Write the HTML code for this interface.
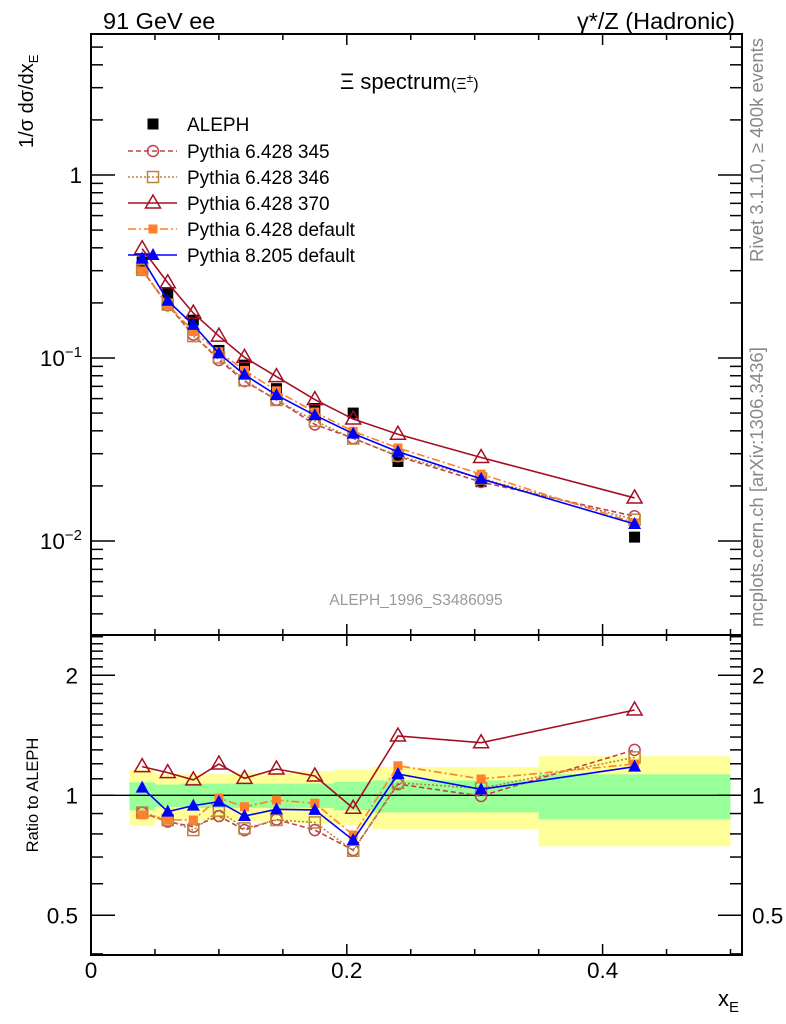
<!DOCTYPE html>
<html><head><meta charset="utf-8"><style>
html,body{margin:0;padding:0;background:#fff;}
svg{display:block;font-family:"Liberation Sans",sans-serif;}
</style></head><body>
<svg id="chart" width="786" height="1024" viewBox="0 0 786 1024" xmlns="http://www.w3.org/2000/svg">
<text x="103" y="29" font-size="23.5">91 GeV ee</text>
<text x="735" y="29" font-size="23.5" text-anchor="end">γ*/Z (Hadronic)</text>
<text x="340" y="89" font-size="22">Ξ spectrum<tspan font-size="16">(Ξ<tspan dy="-7" font-size="12">±</tspan><tspan dy="7">)</tspan></tspan></text>
<text transform="translate(763,150) rotate(-90)" font-size="18.5" fill="#888" text-anchor="middle">Rivet 3.1.10, ≥ 400k events</text>
<text transform="translate(763,487) rotate(-90)" font-size="18.5" fill="#888" text-anchor="middle">mcplots.cern.ch [arXiv:1306.3436]</text>
<text x="416" y="605" font-size="15.5" fill="#999" text-anchor="middle">ALEPH_1996_S3486095</text>
<text transform="translate(33,148) rotate(-90)" font-size="20">1/σ dσ/dx<tspan font-size="13" dy="5">E</tspan></text>
<text transform="translate(38,795) rotate(-90)" font-size="16.5" text-anchor="middle">Ratio to ALEPH</text>
<text x="718" y="1006" font-size="22">x<tspan font-size="15" dy="6">E</tspan></text>
<g id="g"></g>
</svg>
<script>
const xCenters=[0.04,0.06,0.08,0.10,0.12,0.145,0.175,0.205,0.24,0.305,0.425];
const binEdges=[0.03,0.05,0.07,0.09,0.11,0.13,0.16,0.19,0.22,0.26,0.35,0.5];
const aleph=[0.335,0.226,0.161,0.110,0.0914,0.068,0.053,0.050,0.0272,0.0211,0.0105];
const band1Up=[1.078,1.064,1.07,1.07,1.07,1.07,1.07,1.08,1.09,1.09,1.129];
const band1Dn=[0.917,0.935,0.93,0.93,0.93,0.93,0.93,0.917,0.906,0.906,0.87];
const band2Up=[1.157,1.129,1.13,1.13,1.14,1.14,1.15,1.16,1.178,1.178,1.253];
const band2Dn=[0.838,0.865,0.865,0.865,0.86,0.86,0.85,0.84,0.822,0.822,0.745];
const r345=[0.905,0.859,0.834,0.887,0.818,0.87,0.818,0.729,1.067,0.996,1.30];
const r346=[0.905,0.867,0.818,0.915,0.826,0.867,0.855,0.726,1.075,1.041,1.245];
const r370=[1.18,1.14,1.093,1.198,1.103,1.164,1.118,0.928,1.409,1.355,1.637];
const rDef6=[0.893,0.867,0.867,0.984,0.936,0.973,0.955,0.795,1.186,1.099,1.198];
const r8205=[1.045,0.910,0.942,0.964,0.887,0.922,0.919,0.772,1.131,1.035,1.18];
const legendLabels=["ALEPH","Pythia 6.428 345","Pythia 6.428 346","Pythia 6.428 370","Pythia 6.428 default","Pythia 8.205 default"];

const NS="http://www.w3.org/2000/svg";
const G=document.getElementById('g');
function el(t,a,p){const e=document.createElementNS(NS,t);for(const k in a)e.setAttribute(k,a[k]);(p||G).appendChild(e);return e;}
const X0=91,X1=742;
const sx=v=>X0+v*1279;
const MT=34,MB=635;
const sy=v=>175-Math.log10(v)*183;
const RT=635,RB=955;
const ry=r=>795.3-Math.log10(r)*398.6;

for(let i=0;i<xCenters.length;i++){
  const x=sx(binEdges[i]),w=sx(binEdges[i+1])-x;
  const y=el('rect',{x:x,y:ry(band2Up[i]),width:w,height:ry(band2Dn[i])-ry(band2Up[i]),fill:'#ffff99'});
  
  
  const g2=el('rect',{x:x,y:ry(band1Up[i]),width:w,height:ry(band1Dn[i])-ry(band1Up[i]),fill:'#99ff99'});
  
  
}
el('line',{x1:X0,x2:X1,y1:ry(1),y2:ry(1),stroke:'#000','stroke-width':1.3});

function frame(t,b){el('rect',{x:X0,y:t,width:X1-X0,height:b-t,fill:'none',stroke:'#000','stroke-width':2});}
frame(MT,MB);frame(RT,RB);
function xticks(t,b){
  for(let v=0;v<=0.5001;v+=0.05){
    const major=Math.abs(v-Math.round(v/0.2)*0.2)<1e-6;
    const L=major?11:6,x=sx(v);
    el('line',{x1:x,x2:x,y1:b,y2:b-L,stroke:'#000','stroke-width':1.5});
    el('line',{x1:x,x2:x,y1:t,y2:t+L,stroke:'#000','stroke-width':1.5});
  }
}
xticks(MT,MB);xticks(RT,RB);
[0,0.2,0.4].forEach(v=>{const t=el('text',{x:sx(v),y:978,'font-size':22.5,'text-anchor':'middle'});t.textContent=String(v);

});
for(let d=-3;d<=0;d++)for(let m=1;m<10;m++){
  const v=m*Math.pow(10,d),y=sy(v);if(y<MT||y>MB)continue;
  const L=m===1?24:12;
  el('line',{x1:X0,x2:X0+L,y1:y,y2:y,stroke:'#000','stroke-width':1.5});
  el('line',{x1:X1,x2:X1-L,y1:y,y2:y,stroke:'#000','stroke-width':1.5});
}
const yl1=el('text',{x:82,y:183,'font-size':22.5,'text-anchor':'end'});yl1.textContent='1';


[[-1,358],[-2,541]].forEach(([e,y])=>{const t=el('text',{x:82,y:y+8,'font-size':22.5,'text-anchor':'end'});
t.innerHTML='10<tspan font-size="15" dy="-9">−'+(-e)+'</tspan>';

});
[0.4,0.5,0.6,0.7,0.8,0.9,1,1.1,1.2,1.3,1.4,1.5,1.6,1.7,1.8,1.9,2,2.1,2.2,2.3,2.4,2.5].forEach(v=>{
  const y=ry(v);if(y<RT+1||y>RB-1)return;
  const L=(v===0.5||v===1||v===2)?24:12;
  el('line',{x1:X0,x2:X0+L,y1:y,y2:y,stroke:'#000','stroke-width':1.5});
  el('line',{x1:X1,x2:X1-L,y1:y,y2:y,stroke:'#000','stroke-width':1.5});
});
[[2,'2'],[1,'1'],[0.5,'0.5']].forEach(([v,s])=>{
  const a=el('text',{x:78,y:ry(v)+8,'font-size':22.5,'text-anchor':'end'});a.textContent=s;
  
  
  const b=el('text',{x:752,y:ry(v)+8,'font-size':22.5});b.textContent=s;
  
  
});

function marker(type,x,y,col){
  if(type==='sq')return el('rect',{x:x-5.5,y:y-5.5,width:11,height:11,fill:col});
  if(type==='osq')return el('rect',{x:x-5.5,y:y-5.5,width:11,height:11,fill:'none',stroke:col,'stroke-width':1.5});
  if(type==='circ')return el('circle',{cx:x,cy:y,r:5.5,fill:'none',stroke:col,'stroke-width':1.5});
  if(type==='otri')return el('polygon',{points:`${x},${y-8} ${x-7.5},${y+5} ${x+7.5},${y+5}`,fill:'none',stroke:col,'stroke-width':1.5});
  if(type==='tri')return el('polygon',{points:`${x},${y-7} ${x-6.5},${y+5} ${x+6.5},${y+5}`,fill:col});
  if(type==='ssq')return el('rect',{x:x-4.5,y:y-4.5,width:9,height:9,fill:col});
}
const series=[
 {r:r345,col:'#c0404f',dash:'5,3',m:'circ',name:'pythia-6428-345'},
 {r:r346,col:'#b8863b',dash:'2,2',m:'osq',name:'pythia-6428-346'},
 {r:rDef6,col:'#ff7f2a',dash:'8,3,2,3',m:'ssq',name:'pythia-6428-default'},
 {r:r370,col:'#a50f24',dash:'',m:'otri',name:'pythia-6428-370'},
 {r:r8205,col:'#0000ff',dash:'',m:'tri',name:'pythia-8205-default'}
];
aleph.forEach((v,i)=>{const m=marker('sq',sx(xCenters[i]),sy(v),'#000');

});
series.forEach(s=>{
  const mp=xCenters.map((x,i)=>[sx(x),sy(s.r[i]*aleph[i])]);
  const rp=xCenters.map((x,i)=>[sx(x),ry(s.r[i])]);
  [mp,rp].forEach((pts,k)=>{
    const pl=el('polyline',{points:pts.map(p=>p.join(',')).join(' '),fill:'none',stroke:s.col,'stroke-width':1.6,'stroke-dasharray':s.dash});
    
    
    pts.forEach(p=>{const m=marker(s.m,p[0],p[1],s.col);
      
      });
  });
});
const legY=[124,151,177,203,229,255];
const legM=[['sq','#000',''],['circ','#c0404f','5,3'],['osq','#b8863b','2,2'],['otri','#a50f24',''],['ssq','#ff7f2a','8,3,2,3'],['tri','#0000ff','']];
legendLabels.forEach((lab,i)=>{
  const y=legY[i];
  if(i>0){const l=el('line',{x1:128,x2:177,y1:y,y2:y,stroke:legM[i][1],'stroke-width':1.6,'stroke-dasharray':legM[i][2]});
  
  }
  const m=marker(legM[i][0],153,y,legM[i][1]);
  
  
  const t=el('text',{x:187,y:y+7,'font-size':19});t.textContent=lab;
  
  
});
</script>
</body></html>
